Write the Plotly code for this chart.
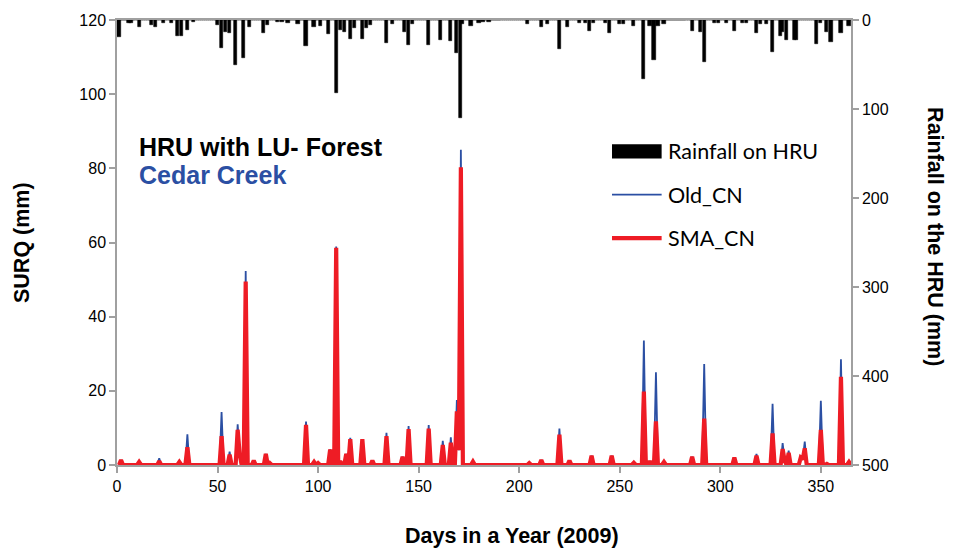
import numpy as np
import plotly.graph_objects as go

# Day of year axis (2009)
days = np.arange(1, 366)

# Daily rainfall on the HRU (mm), wet days only
rain_days = [1, 6, 7, 11, 17, 19, 23, 27, 30, 32, 35, 38, 50, 52, 54, 56, 59, 63, 66,
             73, 75, 80, 82, 85, 90, 94, 98, 101, 105, 109, 111, 113, 116, 118, 122,
             124, 126, 134, 137, 143, 145, 147, 155, 161, 166, 169, 171, 172, 176, 180,
             182, 185, 204, 211, 214, 220, 224, 230, 233, 235, 237, 243, 245, 250, 252,
             257, 262, 265, 267, 269, 272, 286, 290, 292, 297, 299, 303, 307, 311, 313,
             318, 320, 323, 326, 330, 331, 333, 337, 338, 348, 350, 353, 355, 360, 364]
rain_mm = [19, 3, 3, 8, 6, 8, 3, 3, 18, 18, 11, 2.5, 6, 31, 14, 15, 50, 43, 8,
           14.7, 6, 2.5, 2.5, 3, 4, 28.8, 8.4, 6.5, 15.8, 82, 11, 13, 21, 9, 21,
           9, 6, 26, 4, 13, 28, 4, 28, 22, 24, 37, 110, 4, 6.5, 3,
           2.5, 2, 4, 8.4, 4.8, 33, 8.4, 3, 3, 12.8, 3, 3, 14.7, 4.8, 4.8,
           6.5, 66, 6.5, 45.5, 6.5, 4.8, 12.8, 13.9, 47, 3, 3, 3, 12.8, 3, 3,
           14.7, 4.8, 4.8, 35.5, 18, 14, 23, 22, 23, 27, 3, 13, 25, 14.7, 6.5]

# Surface runoff SURQ (mm) on runoff days: original CN method vs soil-moisture CN
surq_days = [2, 11, 21, 31, 35, 52, 56, 60, 61, 64, 68, 74, 76, 94, 98, 100, 106, 109,
             111, 114, 116, 122, 127, 134, 142, 145, 155, 162, 166, 169, 170, 171, 177,
             205, 211, 220, 225, 236, 246, 257, 262, 265, 268, 272, 286, 292, 307, 318,
             326, 331, 332, 334, 340, 341, 342, 350, 353, 360, 364]
old_cn = [1.3, 0.8, 1.8, 0.8, 8.3, 14.3, 3.6, 11.0, 3.0, 52.3, 1.2, 3.0, 0.5, 11.7, 0.8, 0.5, 4.2, 58.9,
          1.0, 3.0, 7.3, 7.0, 1.2, 8.7, 2.2, 10.5, 10.8, 6.5, 7.5, 17.5, 4.0, 85.0, 0.9,
          0.5, 1.3, 9.8, 1.2, 2.5, 2.5, 0.6, 33.6, 1.0, 25.0, 0.8, 2.2, 27.2, 2.0, 3.0,
          16.5, 5.9, 1.2, 3.9, 2.0, 1.5, 6.3, 17.3, 0.5, 28.5, 0.8]
sma_cn = [1.3, 0.8, 1.0, 0.8, 4.8, 7.8, 2.8, 9.5, 3.0, 49.5, 1.2, 3.0, 0.5, 10.8, 0.8, 0.5, 4.2, 58.6,
          1.0, 3.0, 7.0, 7.0, 1.2, 7.8, 2.2, 9.7, 9.8, 5.4, 6.0, 14.5, 4.0, 80.3, 0.9,
          0.5, 1.3, 8.2, 1.2, 2.5, 2.5, 0.6, 19.8, 1.0, 11.8, 0.8, 2.2, 12.5, 2.0, 2.5,
          8.5, 4.3, 1.2, 3.3, 2.0, 1.5, 4.5, 9.5, 0.3, 23.8, 0.8]

x_ticks = [0, 50, 100, 150, 200, 250, 300, 350]
surq_ticks = [0, 20, 40, 60, 80, 100, 120]
rain_ticks = [0, 100, 200, 300, 400, 500]

# Expand the sparse lists into full daily series
rain = np.zeros(len(days))
rain[np.array(rain_days) - 1] = rain_mm
old_series = np.zeros(len(days))
old_series[np.array(surq_days) - 1] = old_cn
sma_series = np.zeros(len(days))
sma_series[np.array(surq_days) - 1] = sma_cn

BLUE = "#2B4FA3"
RED = "#EE1C25"
AXIS = "#A0A0A0"
FONT = "Liberation Sans"
LEG_FONT = "Lato"

fig = go.Figure()
fig.add_trace(go.Bar(x=days, y=rain, yaxis="y2", name="Rainfall on HRU",
                     marker=dict(color="black", line=dict(color="black", width=0.6)),
                     width=1.6, showlegend=False))
fig.add_trace(go.Scatter(x=days, y=old_series, mode="lines", name="Old_CN",
                         line=dict(color=BLUE, width=1.8), showlegend=False))
fig.add_trace(go.Scatter(x=days, y=sma_series, mode="lines", name="SMA_CN",
                         line=dict(color=RED, width=4.2), showlegend=False))

axis_common = dict(showline=True, linecolor=AXIS, linewidth=1.5, ticks="outside",
                   ticklen=6, tickcolor=AXIS, tickwidth=1.5, showgrid=False,
                   zeroline=False, tickfont=dict(family=FONT, size=16, color="black"))

fig.update_layout(
    width=970, height=552,
    margin=dict(l=117, r=119, t=14, b=87),
    paper_bgcolor="white", plot_bgcolor="white",
    bargap=0,
    xaxis=dict(range=[0, 365], tickvals=x_ticks, mirror=True, **axis_common),
    yaxis=dict(range=[0, 120], tickvals=surq_ticks, **axis_common),
    yaxis2=dict(range=[500, 0], tickvals=rain_ticks, overlaying="y", side="right",
                **axis_common),
)

# Axis titles
title_font = dict(family=FONT, size=21.5, color="black")
fig.add_annotation(text="<b>Days in a Year (2009)</b>", xref="paper", yref="paper",
                   x=0.538, y=-0.1596, xanchor="center", yanchor="middle",
                   showarrow=False, font=title_font)
fig.add_annotation(text="<b>SURQ (mm)</b>", xref="paper", yref="paper",
                   x=-0.1294, y=0.4989, xanchor="center", yanchor="middle",
                   showarrow=False, textangle=-90, font=title_font)
fig.add_annotation(text="<b>Rainfall on the HRU (mm)</b>", xref="paper", yref="paper",
                   x=1.1144, y=0.5122, xanchor="center", yanchor="middle",
                   showarrow=False, textangle=90, font=title_font)

# Site labels
fig.add_annotation(text="<b>HRU with LU- Forest</b>", xref="paper", yref="paper",
                   x=0.0272, y=0.714, xanchor="left", yanchor="middle", showarrow=False,
                   font=dict(family=FONT, size=25, color="black"))
fig.add_annotation(text="<b>Cedar Creek</b>", xref="paper", yref="paper",
                   x=0.0272, y=0.652, xanchor="left", yanchor="middle", showarrow=False,
                   font=dict(family=FONT, size=25, color=BLUE))

# Legend keys
leg_x0, leg_x1, leg_tx = 0.6744, 0.742, 0.7475
fig.add_shape(type="rect", xref="paper", yref="paper", x0=leg_x0, x1=leg_x1,
              y0=0.6889, y1=0.7206, fillcolor="black", line=dict(width=0))
fig.add_shape(type="line", xref="paper", yref="paper", x0=leg_x0, x1=leg_x1,
              y0=0.6075, y1=0.6075, line=dict(color=BLUE, width=1.8))
fig.add_shape(type="line", xref="paper", yref="paper", x0=leg_x0, x1=leg_x1,
              y0=0.51, y1=0.51, line=dict(color=RED, width=4.2))
for label, yy in [("Rainfall on HRU", 0.7051), ("Old_CN", 0.6075), ("SMA_CN", 0.51)]:
    fig.add_annotation(text=label, xref="paper", yref="paper", x=leg_tx, y=yy,
                       xanchor="left", yanchor="middle", showarrow=False,
                       font=dict(family=LEG_FONT, size=21.5, color="black"))

fig.write_html("out.html")
